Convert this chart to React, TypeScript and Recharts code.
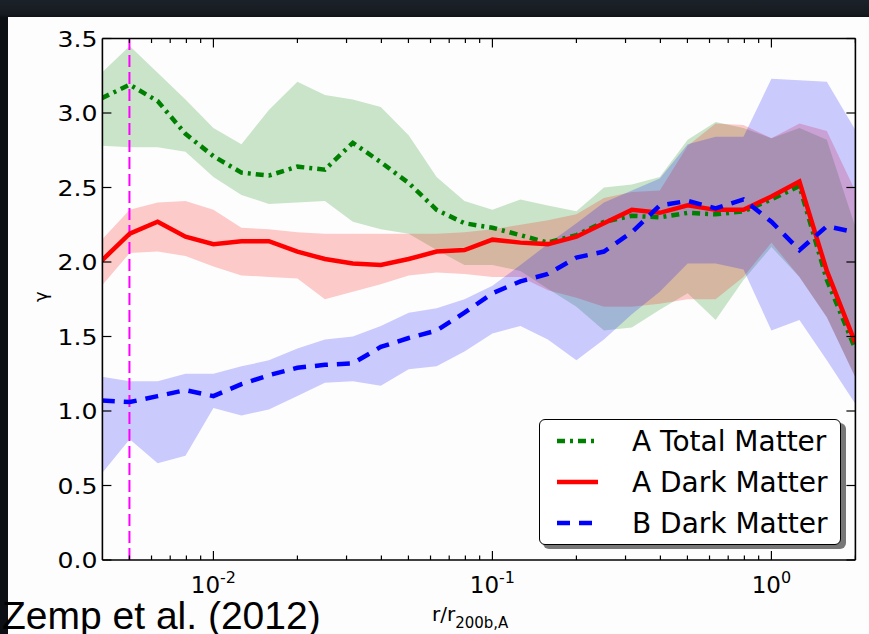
import React from "react";
import { ComposedChart, Line, Area, XAxis, YAxis, ReferenceLine, Legend } from "recharts";

// radii r / r200b,A (0.1 dex bins)
const radius = [
  0.00398, 0.00501, 0.00631, 0.00794, 0.01, 0.0126, 0.0158, 0.02, 0.0251, 0.0316,
  0.0398, 0.0501, 0.0631, 0.0794, 0.1, 0.126, 0.158, 0.2, 0.251, 0.316,
  0.398, 0.501, 0.631, 0.794, 1.0, 1.26, 1.58, 1.995,
];

// A total matter
const aTotal = [3.1, 3.19, 3.08, 2.86, 2.71, 2.6, 2.58, 2.64, 2.62, 2.8, 2.67, 2.53, 2.35, 2.26, 2.23, 2.18, 2.13, 2.18, 2.27, 2.31, 2.3, 2.33, 2.32, 2.34, 2.42, 2.51, 1.88, 1.42];
const aTotalLo = [2.78, 2.77, 2.77, 2.74, 2.57, 2.45, 2.39, 2.4, 2.41, 2.27, 2.22, 2.19, 2.08, 1.98, 1.98, 1.94, 1.82, 1.7, 1.54, 1.56, 1.68, 1.79, 1.61, 1.88, 2.1, 1.9, 1.63, 1.23];
const aTotalHi = [3.27, 3.45, 3.27, 3.09, 2.9, 2.79, 3.02, 3.21, 3.12, 3.09, 3.04, 2.85, 2.57, 2.41, 2.35, 2.42, 2.38, 2.34, 2.5, 2.52, 2.57, 2.82, 2.94, 2.9, 2.83, 2.9, 2.82, 2.24];

// A dark matter
const aDark = [2.01, 2.19, 2.27, 2.17, 2.12, 2.14, 2.14, 2.07, 2.02, 1.99, 1.98, 2.02, 2.07, 2.08, 2.15, 2.13, 2.12, 2.17, 2.26, 2.35, 2.33, 2.38, 2.35, 2.35, 2.44, 2.54, 1.94, 1.46];
const aDarkLo = [1.84, 2.06, 2.07, 2.04, 1.97, 1.91, 1.9, 1.89, 1.75, 1.8, 1.85, 1.91, 1.93, 1.92, 1.9, 1.9, 1.81, 1.76, 1.7, 1.7, 1.72, 1.75, 1.75, 1.9, 2.13, 1.9, 1.63, 1.23];
const aDarkHi = [2.15, 2.35, 2.4, 2.41, 2.35, 2.23, 2.22, 2.2, 2.19, 2.19, 2.19, 2.19, 2.19, 2.2, 2.22, 2.25, 2.28, 2.32, 2.43, 2.47, 2.48, 2.78, 2.93, 2.92, 2.83, 2.93, 2.88, 2.48];

// B dark matter
const bDark = [1.07, 1.06, 1.1, 1.14, 1.1, 1.18, 1.24, 1.29, 1.31, 1.32, 1.43, 1.49, 1.54, 1.66, 1.79, 1.87, 1.92, 2.03, 2.07, 2.2, 2.38, 2.41, 2.36, 2.42, 2.27, 2.08, 2.24, 2.2];
const bDarkLo = [0.58, 0.81, 0.65, 0.7, 1.02, 0.97, 1.01, 1.1, 1.19, 1.2, 1.17, 1.28, 1.3, 1.4, 1.52, 1.57, 1.48, 1.34, 1.48, 1.65, 1.8, 1.99, 1.99, 1.95, 1.54, 1.61, 1.34, 1.05];
const bDarkHi = [1.23, 1.2, 1.2, 1.25, 1.25, 1.3, 1.34, 1.42, 1.48, 1.5, 1.57, 1.66, 1.69, 1.75, 1.84, 1.98, 2.12, 2.26, 2.4, 2.48, 2.56, 2.79, 2.84, 2.84, 3.23, 3.22, 3.21, 2.89];

const yTicks = [0, 0.5, 1, 1.5, 2, 2.5, 3, 3.5];
const majorX = [0.01, 0.1, 1];
const xTicks = [
  0.005, 0.006, 0.007, 0.008, 0.009, 0.01, 0.02, 0.03, 0.04, 0.05, 0.06, 0.07, 0.08, 0.09,
  0.1, 0.2, 0.3, 0.4, 0.5, 0.6, 0.7, 0.8, 0.9, 1, 2,
];
const xExp: Record<string, string> = { "0.01": "-2", "0.1": "-1", "1": "0" };
const rCut = 0.005;

const series = [
  { name: "A Total Matter", color: "#008000", dash: "8 5 3 5" },
  { name: "A Dark Matter", color: "#ff0000", dash: "" },
  { name: "B Dark Matter", color: "#0000ff", dash: "13 9" },
];

const data = radius.map((r, i) => ({
  r,
  aTotal: aTotal[i],
  aTotalBand: [aTotalLo[i], aTotalHi[i]],
  aDark: aDark[i],
  aDarkBand: [aDarkLo[i], aDarkHi[i]],
  bDark: bDark[i],
  bDarkBand: [bDarkLo[i], bDarkHi[i]],
}));

const FONT = "'DejaVu Sans', sans-serif";

const BottomTick = (props: any) => {
  const { x, y, payload } = props;
  const major = majorX.includes(payload.value);
  return (
    <g>
      <line x1={x} x2={x} y1={y} y2={y - (major ? 9 : 4.5)} stroke="#000" strokeWidth={1.2} />
      {major && (
        <text x={x} y={y + 33} textAnchor="middle" fontFamily={FONT} fontSize={23} fill="#000">
          10<tspan dy={-10} fontSize={16}>{xExp[String(payload.value)]}</tspan>
        </text>
      )}
    </g>
  );
};

const TopTick = (props: any) => {
  const { x, y, payload } = props;
  const major = majorX.includes(payload.value);
  return <line x1={x} x2={x} y1={y} y2={y + (major ? 9 : 4.5)} stroke="#000" strokeWidth={1.2} />;
};

const LeftTick = (props: any) => {
  const { x, y, payload } = props;
  return (
    <g>
      <line x1={x} x2={x + 9} y1={y} y2={y} stroke="#000" strokeWidth={1.2} />
      <text x={x - 5} y={y + 8} textAnchor="end" fontFamily={FONT} fontSize={22} fill="#000"
        textLength={40} lengthAdjust="spacingAndGlyphs">
        {Number(payload.value).toFixed(1)}
      </text>
    </g>
  );
};

const RightTick = (props: any) => {
  const { x, y } = props;
  return <line x1={x} x2={x - 9} y1={y} y2={y} stroke="#000" strokeWidth={1.2} />;
};

const LegendBox = () => (
  <div style={{ position: "relative", width: 303, height: 126 }}>
    <div style={{ position: "absolute", left: 4, top: 4, width: 303, height: 126, background: "#777", borderRadius: 6 }} />
    <div style={{ position: "absolute", left: 0, top: 0, width: 300, height: 124, background: "#fff", border: "1.5px solid #000", borderRadius: 6 }} />
    <svg width={303} height={126} style={{ position: "absolute", left: 0, top: 0 }}>
      {series.map((s, i) => {
        const cy = 22 + i * 41;
        return (
          <g key={s.name}>
            <line x1={18} x2={59} y1={cy} y2={cy} stroke={s.color} strokeWidth={4.5}
              strokeDasharray={s.dash || undefined} />
            <text x={93} y={cy + 10} fontFamily={FONT} fontSize={28} fill="#000">{s.name}</text>
          </g>
        );
      })}
    </svg>
  </div>
);

export default function App() {
  return (
    <div style={{ position: "absolute", left: 0, top: 0, width: 869, height: 634, overflow: "hidden",
      background: "linear-gradient(#1c2229 0px, #161b21 14px, #0c1014 18px)" }}>
      <div style={{ position: "absolute", left: 8, top: 17, width: 861, height: 617, background: "#fdfdfd" }}>
        <ComposedChart width={861} height={617} data={data}
          margin={{ top: 20.5, right: 12.6, bottom: 13, left: 34.4 }}>
          <XAxis dataKey="r" type="number" scale="log" domain={[0.004, 2]} allowDataOverflow
            ticks={xTicks} interval={0} height={61} tickSize={0} tickMargin={0} tickLine={false}
            axisLine={{ stroke: "#000", strokeWidth: 1.6 }} tick={<BottomTick />} />
          <XAxis xAxisId="top" orientation="top" dataKey="r" type="number" scale="log" domain={[0.004, 2]}
            allowDataOverflow ticks={xTicks} interval={0} height={1} tickSize={0} tickMargin={0} tickLine={false}
            axisLine={{ stroke: "#000", strokeWidth: 1.6 }} tick={<TopTick />} />
          <YAxis type="number" domain={[0, 3.5]} ticks={yTicks} interval={0} width={60} tickSize={0}
            tickMargin={0} tickLine={false} allowDataOverflow
            axisLine={{ stroke: "#000", strokeWidth: 1.6 }} tick={<LeftTick />} />
          <YAxis yAxisId="right" orientation="right" type="number" domain={[0, 3.5]} ticks={yTicks}
            interval={0} width={1} tickSize={0} tickMargin={0} tickLine={false} allowDataOverflow
            axisLine={{ stroke: "#000", strokeWidth: 1.6 }} tick={<RightTick />} />

          <Area dataKey="aTotalBand" type="linear" stroke="none" fill="#008000" fillOpacity={0.2}
            isAnimationActive={false} activeDot={false} />
          <Area dataKey="aDarkBand" type="linear" stroke="none" fill="#ff0000" fillOpacity={0.2}
            isAnimationActive={false} activeDot={false} />
          <Area dataKey="bDarkBand" type="linear" stroke="none" fill="#0000ff" fillOpacity={0.2}
            isAnimationActive={false} activeDot={false} />

          <ReferenceLine x={rCut} stroke="#ff00ff" strokeWidth={2} strokeDasharray="12 5" />

          <Line dataKey="aTotal" type="linear" stroke="#008000" strokeWidth={4.5} strokeDasharray="8 5 3 5"
            dot={false} activeDot={false} isAnimationActive={false} />
          <Line dataKey="aDark" type="linear" stroke="#ff0000" strokeWidth={4.5}
            dot={false} activeDot={false} isAnimationActive={false} />
          <Line dataKey="bDark" type="linear" stroke="#0000ff" strokeWidth={4.5} strokeDasharray="13 9"
            dot={false} activeDot={false} isAnimationActive={false} />

          <Legend layout="vertical" align="center" verticalAlign="middle" content={<LegendBox />}
            wrapperStyle={{ left: 531, top: 402, width: 307, height: 130 }} />
        </ComposedChart>
      </div>
      <svg width={869} height={634} style={{ position: "absolute", left: 0, top: 0, pointerEvents: "none" }}>
        <text x={2} y={629} fontFamily="'Liberation Sans', Arial, sans-serif" fontSize={39} fill="#000">
          Zemp et al. (2012)
        </text>
        <text x={432} y={621} fontFamily={FONT} fontSize={20} fill="#000">
          r/r<tspan dy={7} fontSize={15}>200b,A</tspan>
        </text>
        <text x={0} y={0} transform="translate(47 302) rotate(-90)" fontFamily={FONT} fontSize={18} fill="#000">
          γ
        </text>
      </svg>
    </div>
  );
}
